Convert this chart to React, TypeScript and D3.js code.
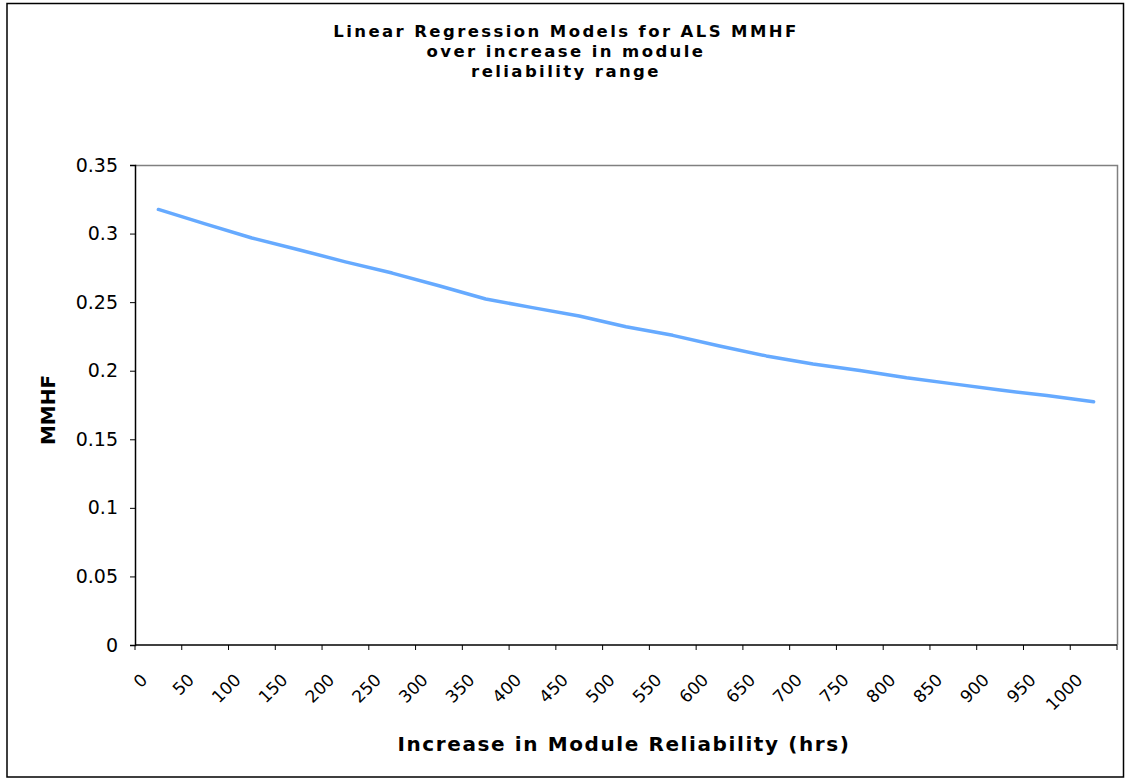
import * as d3 from "d3";
import React, { useEffect, useRef } from "react";

// hours of added module reliability (x categories)
const hours = [0, 50, 100, 150, 200, 250, 300, 350, 400, 450, 500, 550, 600, 650, 700, 750, 800, 850, 900, 950, 1000];
// MMHF
const mmhf = [
  0.3176, 0.3071, 0.2968, 0.2882, 0.2794, 0.2712, 0.262, 0.2523, 0.246, 0.2399, 0.2321,
  0.2258, 0.218, 0.2108, 0.2049, 0.2002, 0.1948, 0.1904, 0.1859, 0.1819, 0.1774,
];
const yTicks = [0, 0.05, 0.1, 0.15, 0.2, 0.25, 0.3, 0.35];
const titleLines = ["Linear Regression Models for ALS MMHF", "over increase in module", "reliability range"];

const W = 1127;
const H = 780;
const FONT = "'DejaVu Sans', Verdana, sans-serif";

const App = () => {
  const ref = useRef<SVGSVGElement>(null);

  useEffect(() => {
    const svg = d3.select(ref.current);
    svg.selectAll("*").remove();

    const left = 135, right = 1117, top = 165, bottom = 645;

    const x = d3.scaleBand<number>().domain(hours).range([left, right]);
    const y = d3.scaleLinear().domain([0, 0.35]).range([bottom, top]);

    svg.append("rect").attr("width", W).attr("height", H).attr("fill", "#fff");
    // chart frame
    svg.append("path")
      .attr("d", `M7,3.5H1123.5V777H7Z`)
      .attr("fill", "none").attr("stroke", "#000").attr("stroke-width", 1.5);

    // title, one text per line
    titleLines.forEach((t, i) => {
      svg.append("text")
        .attr("x", 566).attr("y", 37 + i * 20)
        .attr("text-anchor", "middle")
        .style("font-family", FONT)
        .style("font-weight", "bold").style("font-size", "16.5px").style("letter-spacing", "2.4px")
        .text(t);
    });

    // plot area border (top/right gray)
    svg.append("path")
      .attr("d", `M${left},${top + 0.5}H${right + 0.5}V${bottom}`)
      .attr("fill", "none").attr("stroke", "#808080").attr("stroke-width", 1.5);

    // y axis
    const yAxis = svg.append("g").attr("transform", `translate(${left},0)`)
      .call(d3.axisLeft(y).tickValues(yTicks).tickSize(5).tickPadding(12).tickFormat((d) => d3.format("~g")(d as number)));
    yAxis.select(".domain").attr("stroke", "#000").attr("stroke-width", 1.5);
    yAxis.selectAll(".tick line").attr("stroke", "#000");
    yAxis.selectAll("text")
      .attr("fill", "#000")
      .style("font-family", FONT)
      .style("font-size", "19px");

    // x axis: ticks on category boundaries
    const xAxis = svg.append("g").attr("transform", `translate(0,${bottom})`);
    xAxis.append("line").attr("x1", left).attr("x2", right).attr("stroke", "#000").attr("stroke-width", 1.5);
    const bounds = [...hours.map((h) => x(h) as number), right];
    xAxis.selectAll("line.tk").data(bounds).enter().append("line")
      .attr("class", "tk")
      .attr("x1", (d) => d).attr("x2", (d) => d).attr("y1", 0).attr("y2", 5)
      .attr("stroke", "#000");
    xAxis.selectAll("text").data(hours).enter().append("text")
      .attr("transform", (d) => `translate(${(x(d) as number) + x.bandwidth() / 2 - 10},36) rotate(-45)`)
      .attr("text-anchor", "end")
      .style("font-family", FONT)
      .style("font-size", "17px")
      .text((d) => d);

    // axis titles
    svg.append("text")
      .attr("x", 624).attr("y", 751).attr("text-anchor", "middle")
      .style("font-family", FONT)
      .style("font-weight", "bold").style("font-size", "20px").style("letter-spacing", "1.6px")
      .text("Increase in Module Reliability (hrs)");
    svg.append("text")
      .attr("transform", "translate(55,410) rotate(-90)").attr("text-anchor", "middle")
      .style("font-family", FONT)
      .style("font-weight", "bold").style("font-size", "20px")
      .text("MMHF");

    // series
    const line = d3.line<number>()
      .x((_, i) => (x(hours[i]) as number) + x.bandwidth() / 2)
      .y((d) => y(d));
    svg.append("path")
      .datum(mmhf)
      .attr("d", line)
      .attr("fill", "none")
      .attr("stroke", "#66aaff")
      .attr("stroke-width", 3.5)
      .attr("stroke-linecap", "round")
      .attr("stroke-linejoin", "round");
  }, []);

  return <svg ref={ref} width={W} height={H} style={{ position: "absolute", left: 0, top: 0 }} />;
};

export default App;
